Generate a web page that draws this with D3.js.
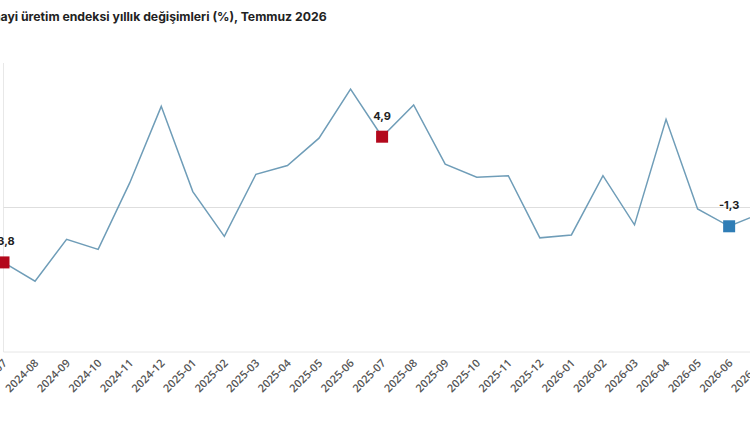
<!DOCTYPE html>
<head>
    <meta charset="UTF-8">
    <script src="https://cdnjs.cloudflare.com/ajax/libs/d3/7.8.5/d3.min.js"></script>
    <style>
        body { margin: 0; background: #fff; overflow: hidden; }
    </style>
</head>
<body>
    <svg id="grafik"></svg>
    <script>
        //********** VERİLER *********************
        var aylar = ["2024-07", "2024-08", "2024-09", "2024-10", "2024-11", "2024-12",
            "2025-01", "2025-02", "2025-03", "2025-04", "2025-05", "2025-06",
            "2025-07", "2025-08", "2025-09", "2025-10", "2025-11", "2025-12",
            "2026-01", "2026-02", "2026-03", "2026-04", "2026-05", "2026-06", "2026-07"];

        var degisim = [-3.8, -5.1, -2.2, -2.9, 1.7, 7.0,
            1.1, -2.0, 2.3, 2.9, 4.8, 8.2,
            4.9, 7.1, 3.0, 2.1, 2.2, -2.1,
            -1.9, 2.2, -1.2, 6.1, -0.1, -1.3, -0.4];

        var vurguAylar = ["2024-07", "2025-07", "2026-06"];
        var vurguRenk = ["#b3081c", "#b3081c", "#2f7db6"];

        var baslik = "Sanayi üretim endeksi yıllık değişimleri (%), Temmuz 2026";

        var width = 750, height = 422;

        var fmt = d3.formatLocale({ decimal: ",", thousands: ".", grouping: [3], currency: ["", ""], minus: "-" })
            .format(".1f");

        var svg = d3.select("#grafik").attr("width", width).attr("height", height);

        var x = d3.scalePoint().domain(aylar).range([3.5, 760.7]);
        var y = d3.scaleLinear().domain([-10, 10]).range([352, 63]);

        // baslik: sol tarafi kirpilmis; "üretim" x=21'de baslar, "2026" x=327'de biter
        var t = svg.append("text")
            .attr("y", 21)
            .style("font-family", "Inter, 'Open Sans', sans-serif")
            .style("font-weight", 700)
            .style("font-size", "14px")
            .style("fill", "#222")
            .text(baslik);
        var bas = baslik.indexOf("üretim");
        var n = t.node();
        var span = n.getComputedTextLength() - n.getSubStringLength(0, bas);
        var fs = 14 * 306 / span;
        t.style("font-size", fs + "px");
        t.attr("x", 21 - n.getSubStringLength(0, bas));

        // izgara
        svg.append("line")
            .attr("x1", x(aylar[0])).attr("x2", x(aylar[0]))
            .attr("y1", y(10)).attr("y2", y(-10))
            .style("stroke", "#e8e8e8");

        svg.append("line")
            .attr("x1", x(aylar[0])).attr("x2", width)
            .attr("y1", y(0)).attr("y2", y(0))
            .style("stroke", "#dedede");

        var eksen = svg.append("g")
            .attr("transform", "translate(0," + y(-10) + ")")
            .call(d3.axisBottom(x).tickSize(0).tickPadding(0));
        eksen.select(".domain").style("stroke", "#e6e6e6").attr("d", "M" + x(aylar[0]) + ",0H" + width);
        eksen.selectAll("text")
            .attr("text-anchor", "end")
            .attr("transform", "translate(1,9) rotate(-45)")
            .attr("dy", "0.35em")
            .style("font-family", "'Open Sans', sans-serif")
            .style("font-weight", 600)
            .style("font-size", "11px")
            .style("fill", "#555");

        // cizgi
        var seri = aylar.map(function (d, i) { return { ay: d, v: degisim[i] }; });

        svg.append("path")
            .datum(seri)
            .attr("d", d3.line().x(function (d) { return x(d.ay); }).y(function (d) { return y(d.v); }))
            .style("fill", "none")
            .style("stroke", "#6f9db8")
            .style("stroke-width", 1.5);

        // vurgulanan noktalar
        var vurgu = seri.filter(function (d) { return vurguAylar.indexOf(d.ay) >= 0; });

        svg.selectAll("rect.isaret")
            .data(vurgu)
            .enter()
            .append("rect")
            .attr("class", "isaret")
            .attr("x", function (d) { return x(d.ay) - 6; })
            .attr("y", function (d) { return y(d.v) - 6; })
            .attr("width", 12).attr("height", 12)
            .style("fill", function (d) { return vurguRenk[vurguAylar.indexOf(d.ay)]; });

        svg.selectAll("text.etiket")
            .data(vurgu)
            .enter()
            .append("text")
            .attr("class", "etiket")
            .attr("x", function (d) { return x(d.ay); })
            .attr("y", function (d) { return y(d.v) - 17; })
            .attr("text-anchor", "middle")
            .style("font-family", "Inter, 'Open Sans', sans-serif")
            .style("font-weight", 700)
            .style("font-size", "11px")
            .style("fill", "#222")
            .text(function (d) { return fmt(d.v); });
    </script>
</body>
